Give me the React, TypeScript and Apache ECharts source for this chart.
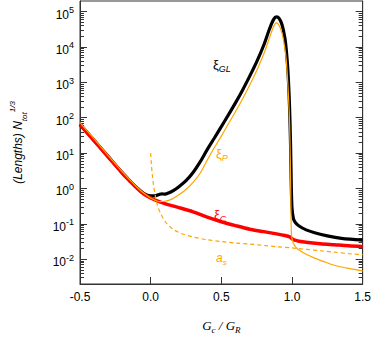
import React, { useEffect, useRef } from "react";
import * as echarts from "echarts";

// ---- data (x = Gc/GR, y = log10 of length) ----
const glX = [-0.5, -0.4, -0.3, -0.2, -0.15, -0.1, -0.05, 0, 0.03, 0.06, 0.08, 0.1, 0.13, 0.16, 0.2, 0.25, 0.3, 0.35, 0.4, 0.45, 0.5, 0.55, 0.6, 0.65, 0.7, 0.75, 0.8, 0.84, 0.87, 0.89, 0.91, 0.93, 0.95, 0.96, 0.97, 0.98, 0.985, 0.99, 0.995, 1.0, 1.01, 1.025, 1.05, 1.1, 1.16, 1.25, 1.35, 1.5];
const glLog = [1.82, 1.36, 0.9, 0.44, 0.23, 0.03, -0.14, -0.21, -0.21, -0.17, -0.15, -0.16, -0.12, -0.06, 0.05, 0.22, 0.45, 0.75, 1.1, 1.42, 1.75, 2.08, 2.42, 2.78, 3.17, 3.58, 4.05, 4.5, 4.78, 4.85, 4.8, 4.62, 4.25, 3.9, 3.4, 2.6, 2.0, 1.2, 0.1, -0.55, -0.85, -0.97, -1.06, -1.17, -1.25, -1.34, -1.41, -1.46];

const cX = [-0.5, -0.4, -0.3, -0.2, -0.15, -0.1, -0.05, 0, 0.05, 0.1, 0.2, 0.3, 0.4, 0.5, 0.6, 0.7, 0.8, 0.9, 0.95, 0.98, 1.0, 1.02, 1.05, 1.1, 1.2, 1.3, 1.4, 1.5];
const cLog = [1.8, 1.35, 0.89, 0.43, 0.22, 0.02, -0.15, -0.27, -0.36, -0.43, -0.54, -0.66, -0.81, -0.94, -1.05, -1.15, -1.22, -1.29, -1.33, -1.36, -1.42, -1.46, -1.49, -1.52, -1.56, -1.59, -1.62, -1.64];

const pX = [-0.5, -0.4, -0.3, -0.2, -0.15, -0.1, -0.05, 0, 0.03, 0.06, 0.1, 0.15, 0.2, 0.25, 0.3, 0.35, 0.4, 0.45, 0.5, 0.55, 0.6, 0.65, 0.7, 0.75, 0.8, 0.84, 0.87, 0.89, 0.91, 0.93, 0.95, 0.96, 0.97, 0.98, 0.985, 0.99, 0.993, 0.996, 1.0, 1.01, 1.025, 1.05, 1.1, 1.16, 1.22, 1.3, 1.4, 1.5];
const pLog = [1.86, 1.4, 0.93, 0.47, 0.26, 0.05, -0.13, -0.27, -0.33, -0.37, -0.36, -0.3, -0.18, -0.03, 0.17, 0.43, 0.8, 1.15, 1.48, 1.83, 2.17, 2.53, 2.92, 3.33, 3.8, 4.25, 4.58, 4.68, 4.6, 4.38, 3.95, 3.6, 3.0, 2.2, 1.5, 0.3, -0.8, -1.25, -1.42, -1.55, -1.65, -1.74, -1.86, -1.97, -2.06, -2.17, -2.26, -2.33];

const aX = [0.0, 0.005, 0.01, 0.02, 0.035, 0.05, 0.07, 0.1, 0.13, 0.17, 0.22, 0.3, 0.4, 0.5, 0.6, 0.7, 0.8, 0.9, 1.0, 1.1, 1.2, 1.3, 1.4, 1.5];
const aLog = [1.0, 0.7, 0.45, 0.1, -0.25, -0.5, -0.7, -0.92, -1.06, -1.18, -1.28, -1.37, -1.45, -1.5, -1.54, -1.57, -1.61, -1.65, -1.68, -1.72, -1.76, -1.8, -1.84, -1.87];

const yDecades = [-2, -1, 0, 1, 2, 3, 4, 5];
const Y_MIN = -2.7;
const Y_MAX = 5.3;
const X_MIN = -0.5;
const X_MAX = 1.5;
const X_STEP = 0.5;

const BLACK = "#000000";
const RED = "#ff0000";
const ORANGE = "#ffa500";
const AXIS = "#333333";
const SANS = "Liberation Sans, Arial, sans-serif";
const SERIF = "Liberation Serif, Times New Roman, serif";

function pairs(xs: number[], ys: number[]) {
  return xs.map((x, i) => [x, ys[i]]);
}

const minorVals: number[] = [];
for (let n = -3; n <= 5; n++) {
  for (let k = 2; k <= 9; k++) {
    const v = n + Math.log10(k);
    if (v >= Y_MIN && v <= Y_MAX) minorVals.push(v);
  }
}

export default function App() {
  const ref = useRef<HTMLDivElement>(null);
  useEffect(() => {
    document.body.style.margin = "0";
    if (!ref.current) return;
    const chart = echarts.init(ref.current, undefined, { renderer: "svg" });
    const baseY: any = {
      type: "value",
      min: Y_MIN,
      max: Y_MAX,
      splitLine: { show: false },
      axisLine: { show: false, onZero: false },
      axisLabel: { show: false },
    };
    const tick = (len: number, vals: number[]) => ({
      show: true,
      inside: true,
      length: len,
      customValues: vals,
      lineStyle: { color: AXIS, width: 1 },
    });
    chart.setOption({
      animation: false,
      grid: {
        left: 71,
        right: 7,
        top: 1,
        bottom: 45,
        show: true,
        borderColor: AXIS,
        borderWidth: 1,
      },
      xAxis: {
        type: "value",
        min: X_MIN,
        max: X_MAX,
        interval: X_STEP,
        splitLine: { show: false },
        axisLine: { show: true, onZero: false, lineStyle: { color: AXIS } },
        axisTick: { show: true, inside: true, length: 7, lineStyle: { color: AXIS } },
        axisLabel: {
          formatter: (v: number) => v.toFixed(1),
          fontFamily: SANS,
          fontSize: 12,
          color: "#000",
          margin: 7,
        },
        name: "{g|G}{s|c}{g| / G}{s|R}",
        nameLocation: "middle",
        nameGap: 32,
        nameTextStyle: {
          fontFamily: SERIF,
          fontStyle: "italic",
          color: "#000",
          rich: {
            g: { fontFamily: SERIF, fontStyle: "italic", fontSize: 13, lineHeight: 18, verticalAlign: "middle", color: "#000" },
            s: { fontFamily: SERIF, fontStyle: "italic", fontSize: 9, lineHeight: 9, verticalAlign: "bottom", color: "#000" },
          },
        },
      },
      yAxis: [
        {
          ...baseY,
          position: "left",
          axisLine: { show: true, onZero: false, lineStyle: { color: AXIS } },
          axisTick: tick(7, yDecades),
          axisLabel: {
            show: true,
            customValues: yDecades,
            formatter: (v: number) => `{b|10}{s|${Math.round(v)}}`,
            margin: 6,
            padding: [6, 0, 0, 0],
            rich: {
              b: { fontFamily: SANS, fontSize: 12, lineHeight: 18, verticalAlign: "middle", color: "#000" },
              s: { fontFamily: SANS, fontSize: 9, lineHeight: 8, verticalAlign: "top", color: "#000" },
            },
          },
          name: "{n|(Lengths) N}{sub|tot}{sup|1/3}",
          nameLocation: "middle",
          nameRotate: 90,
          nameGap: 52,
          nameTextStyle: {
            rich: {
              n: { fontFamily: SANS, fontStyle: "italic", fontSize: 12, lineHeight: 20, verticalAlign: "middle", color: "#000" },
              sub: { fontFamily: SANS, fontStyle: "italic", fontSize: 8, lineHeight: 8, verticalAlign: "bottom", color: "#000" },
              sup: { fontFamily: SANS, fontStyle: "italic", fontSize: 8, lineHeight: 8, verticalAlign: "top", color: "#000" },
            },
          },
        },
        { ...baseY, position: "left", axisTick: tick(4, minorVals) },
        { ...baseY, position: "right", axisLine: { show: true, onZero: false, lineStyle: { color: AXIS } }, axisTick: tick(7, yDecades) },
        { ...baseY, position: "right", axisTick: tick(4, minorVals) },
      ],
      series: [
        {
          name: "xi_GL",
          type: "line",
          data: pairs(glX, glLog),
          showSymbol: false,
          smooth: 0.3,
          lineStyle: { color: BLACK, width: 3.2 },
          z: 2,
        },
        {
          name: "xi_C",
          type: "line",
          data: pairs(cX, cLog),
          showSymbol: false,
          smooth: 0.3,
          lineStyle: { color: RED, width: 3.5 },
          z: 3,
        },
        {
          name: "xi_P",
          type: "line",
          data: pairs(pX, pLog),
          showSymbol: false,
          smooth: 0.3,
          lineStyle: { color: ORANGE, width: 1.2 },
          z: 4,
        },
        {
          name: "a_s",
          type: "line",
          data: pairs(aX, aLog),
          showSymbol: false,
          smooth: 0.3,
          lineStyle: { color: ORANGE, width: 1.2, type: [4, 3] },
          z: 4,
        },
      ],
      graphic: [
        {
          type: "text",
          x: 213,
          y: 55,
          style: {
            text: "{x|ξ}{s|GL}",
            rich: {
              x: { fontFamily: SANS, fontSize: 13, lineHeight: 18, verticalAlign: "middle", fill: BLACK },
              s: { fontFamily: SANS, fontStyle: "italic", fontSize: 9, lineHeight: 9, verticalAlign: "bottom", fill: BLACK },
            },
          },
        },
        {
          type: "text",
          x: 216,
          y: 144,
          style: {
            text: "{x|ξ}{s|P}",
            rich: {
              x: { fontFamily: SANS, fontSize: 13, lineHeight: 18, verticalAlign: "middle", fill: ORANGE },
              s: { fontFamily: SANS, fontStyle: "italic", fontSize: 9, lineHeight: 9, verticalAlign: "bottom", fill: ORANGE },
            },
          },
        },
        {
          type: "text",
          x: 214,
          y: 205,
          style: {
            text: "{x|ξ}{s|C}",
            rich: {
              x: { fontFamily: SANS, fontSize: 13, lineHeight: 18, verticalAlign: "middle", fill: RED },
              s: { fontFamily: SANS, fontStyle: "italic", fontSize: 9, lineHeight: 9, verticalAlign: "bottom", fill: RED },
            },
          },
        },
        {
          type: "text",
          x: 216,
          y: 250,
          style: {
            text: "{x|a}{s|s}",
            rich: {
              x: { fontFamily: SANS, fontStyle: "italic", fontSize: 12, lineHeight: 16, verticalAlign: "middle", fill: ORANGE },
              s: { fontFamily: SANS, fontStyle: "italic", fontSize: 8, lineHeight: 8, verticalAlign: "bottom", fill: ORANGE },
            },
          },
        },
      ],
    });
    return () => chart.dispose();
  }, []);
  return <div ref={ref} style={{ width: 374, height: 339 }} />;
}
